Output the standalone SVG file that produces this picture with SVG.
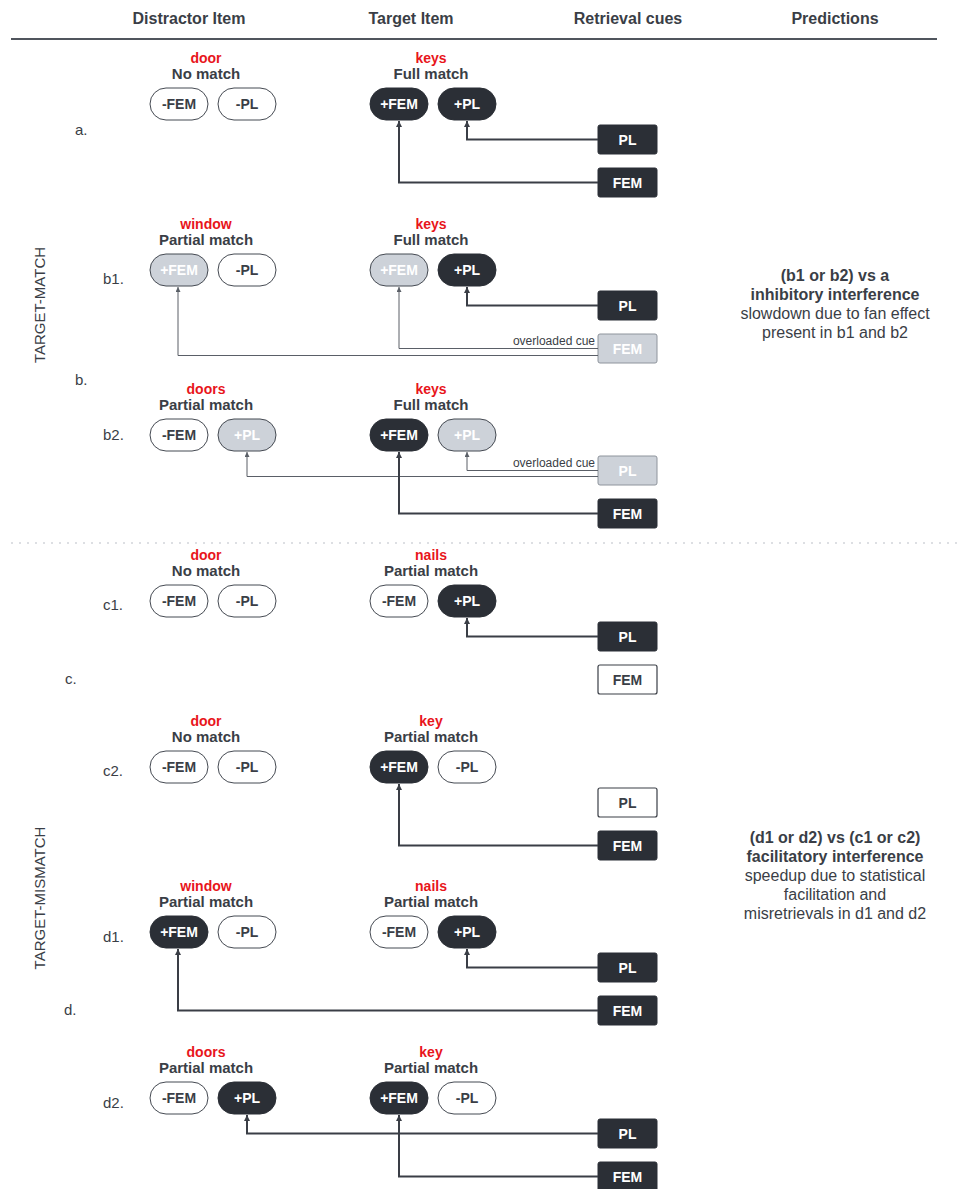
<svg xmlns="http://www.w3.org/2000/svg" width="961" height="1189" viewBox="0 0 961 1189">
<style>
text{font-family:"Liberation Sans",Arial,sans-serif;fill:#3a3e46}
.hd{font-size:16px;font-weight:bold;text-anchor:middle}
.w{font-size:14px;font-weight:bold;fill:#e8151b;text-anchor:middle}
.m{font-size:15px;font-weight:bold;text-anchor:middle}
.rl{font-size:15px}
.pt{font-size:14px;font-weight:bold;text-anchor:middle;dominant-baseline:central}
.pw rect{fill:#fff;stroke:#454a52;stroke-width:1}
.pd rect{fill:#2b2f36;stroke:#2b2f36;stroke-width:1}
.pg rect{fill:#cdd2d9;stroke:#454a52;stroke-width:1}
.pd text,.pg text,.cd text,.cg text{fill:#fff}
.cd rect{fill:#2b2f36;stroke:#2b2f36}
.cw rect{fill:#fff;stroke:#3a3e46;stroke-width:1.2}
.cg rect{fill:#cdd2d9;stroke:#8e949c;stroke-width:1}
.k{fill:none;stroke:#3a3e46;stroke-width:2}
.t{fill:none;stroke:#5a5f67;stroke-width:1}
.pr{font-size:16px;text-anchor:middle}
.prb{font-size:16px;font-weight:bold;text-anchor:middle}
.oc{font-size:12px;text-anchor:end;fill:#3a3e46}
</style>
<defs>
<marker id="ah" markerUnits="userSpaceOnUse" markerWidth="8" markerHeight="8" refX="6" refY="3" orient="auto">
<path d="M0,0 L6,3 L0,6 Z" fill="#3a3e46"/>
</marker>
<marker id="aht" markerUnits="userSpaceOnUse" markerWidth="8" markerHeight="8" refX="5" refY="2.5" orient="auto">
<path d="M0,0 L5,2.5 L0,5 Z" fill="#5a5f67"/>
</marker>
</defs>

<g id="header">
<text class="hd" x="189" y="24">Distractor Item</text>
<text class="hd" x="411" y="24">Target Item</text>
<text class="hd" x="628" y="24">Retrieval cues</text>
<text class="hd" x="835" y="24">Predictions</text>
<line x1="11" y1="39" x2="937" y2="39" stroke="#50555d" stroke-width="2"/>
<line x1="11" y1="543" x2="960" y2="543" stroke="#d2d5da" stroke-width="1.5" stroke-dasharray="2,6"/>
</g>

<g id="side-labels">
<text class="rl" transform="translate(45,305) rotate(-90)" text-anchor="middle">TARGET-MATCH</text>
<text class="rl" transform="translate(45,898) rotate(-90)" text-anchor="middle">TARGET-MISMATCH</text>
<text class="rl" x="75" y="135">a.</text>
<text class="rl" x="103" y="284">b1.</text>
<text class="rl" x="75" y="385">b.</text>
<text class="rl" x="103" y="440">b2.</text>
<text class="rl" x="103" y="610">c1.</text>
<text class="rl" x="65" y="684">c.</text>
<text class="rl" x="103" y="776">c2.</text>
<text class="rl" x="103" y="942">d1.</text>
<text class="rl" x="64" y="1015">d.</text>
<text class="rl" x="103" y="1108">d2.</text>
</g>

<g id="predictions">
<text class="prb" x="835" y="281">(b1 or b2) vs a</text>
<text class="prb" x="835" y="300">inhibitory interference</text>
<text class="pr" x="835" y="319">slowdown due to fan effect</text>
<text class="pr" x="835" y="338">present in b1 and b2</text>
<text class="prb" x="835" y="843">(d1 or d2) vs (c1 or c2)</text>
<text class="prb" x="835" y="862">facilitatory interference</text>
<text class="pr" x="835" y="881">speedup due to statistical</text>
<text class="pr" x="835" y="900">facilitation and</text>
<text class="pr" x="835" y="919">misretrievals in d1 and d2</text>
</g>

<!-- Row a (t=88) -->
<g id="row-a">
<text class="w" x="206" y="63">door</text>
<text class="m" x="206" y="79">No match</text>
<text class="w" x="431" y="63">keys</text>
<text class="m" x="431" y="79">Full match</text>
<g id="a-d-fem" class="pw"><rect x="150" y="88" width="58" height="32" rx="16"/><text class="pt" x="179" y="104">-FEM</text></g>
<g id="a-d-pl" class="pw"><rect x="218" y="88" width="58" height="32" rx="16"/><text class="pt" x="247" y="104">-PL</text></g>
<g id="a-t-fem" class="pd"><rect x="370" y="88" width="58" height="32" rx="16"/><text class="pt" x="399" y="104">+FEM</text></g>
<g id="a-t-pl" class="pd"><rect x="438" y="88" width="58" height="32" rx="16"/><text class="pt" x="467" y="104">+PL</text></g>
<g id="a-cue-pl" class="cd"><rect x="598" y="125" width="59" height="29" rx="2"/><text class="pt" x="627.5" y="139.5">PL</text></g>
<g id="a-cue-fem" class="cd"><rect x="598" y="168" width="59" height="29" rx="2"/><text class="pt" x="627.5" y="182.5">FEM</text></g>
</g>

<!-- Row b1 (t=254) -->
<g id="row-b1">
<text class="w" x="206" y="229">window</text>
<text class="m" x="206" y="245">Partial match</text>
<text class="w" x="431" y="229">keys</text>
<text class="m" x="431" y="245">Full match</text>
<g id="b1-d-fem" class="pg"><rect x="150" y="254" width="58" height="32" rx="16"/><text class="pt" x="179" y="270">+FEM</text></g>
<g id="b1-d-pl" class="pw"><rect x="218" y="254" width="58" height="32" rx="16"/><text class="pt" x="247" y="270">-PL</text></g>
<g id="b1-t-fem" class="pg"><rect x="370" y="254" width="58" height="32" rx="16"/><text class="pt" x="399" y="270">+FEM</text></g>
<g id="b1-t-pl" class="pd"><rect x="438" y="254" width="58" height="32" rx="16"/><text class="pt" x="467" y="270">+PL</text></g>
<g id="b1-cue-pl" class="cd"><rect x="598" y="291" width="59" height="29" rx="2"/><text class="pt" x="627.5" y="305.5">PL</text></g>
<g id="b1-cue-fem" class="cg"><rect x="598" y="334" width="59" height="29" rx="2"/><text class="pt" x="627.5" y="348.5">FEM</text></g>
<text class="oc" x="595" y="345">overloaded cue</text>
</g>

<!-- Row b2 (t=419) -->
<g id="row-b2">
<text class="w" x="206" y="394">doors</text>
<text class="m" x="206" y="410">Partial match</text>
<text class="w" x="431" y="394">keys</text>
<text class="m" x="431" y="410">Full match</text>
<g id="b2-d-fem" class="pw"><rect x="150" y="419" width="58" height="32" rx="16"/><text class="pt" x="179" y="435">-FEM</text></g>
<g id="b2-d-pl" class="pg"><rect x="218" y="419" width="58" height="32" rx="16"/><text class="pt" x="247" y="435">+PL</text></g>
<g id="b2-t-fem" class="pd"><rect x="370" y="419" width="58" height="32" rx="16"/><text class="pt" x="399" y="435">+FEM</text></g>
<g id="b2-t-pl" class="pg"><rect x="438" y="419" width="58" height="32" rx="16"/><text class="pt" x="467" y="435">+PL</text></g>
<g id="b2-cue-pl" class="cg"><rect x="598" y="456" width="59" height="29" rx="2"/><text class="pt" x="627.5" y="470.5">PL</text></g>
<g id="b2-cue-fem" class="cd"><rect x="598" y="499" width="59" height="29" rx="2"/><text class="pt" x="627.5" y="513.5">FEM</text></g>
<text class="oc" x="595" y="467">overloaded cue</text>
</g>

<!-- Row c1 (t=585) -->
<g id="row-c1">
<text class="w" x="206" y="560">door</text>
<text class="m" x="206" y="576">No match</text>
<text class="w" x="431" y="560">nails</text>
<text class="m" x="431" y="576">Partial match</text>
<g id="c1-d-fem" class="pw"><rect x="150" y="585" width="58" height="32" rx="16"/><text class="pt" x="179" y="601">-FEM</text></g>
<g id="c1-d-pl" class="pw"><rect x="218" y="585" width="58" height="32" rx="16"/><text class="pt" x="247" y="601">-PL</text></g>
<g id="c1-t-fem" class="pw"><rect x="370" y="585" width="58" height="32" rx="16"/><text class="pt" x="399" y="601">-FEM</text></g>
<g id="c1-t-pl" class="pd"><rect x="438" y="585" width="58" height="32" rx="16"/><text class="pt" x="467" y="601">+PL</text></g>
<g id="c1-cue-pl" class="cd"><rect x="598" y="622" width="59" height="29" rx="2"/><text class="pt" x="627.5" y="636.5">PL</text></g>
<g id="c1-cue-fem" class="cw"><rect x="598" y="665" width="59" height="29" rx="2"/><text class="pt" x="627.5" y="679.5">FEM</text></g>
</g>

<!-- Row c2 (t=751) -->
<g id="row-c2">
<text class="w" x="206" y="726">door</text>
<text class="m" x="206" y="742">No match</text>
<text class="w" x="431" y="726">key</text>
<text class="m" x="431" y="742">Partial match</text>
<g id="c2-d-fem" class="pw"><rect x="150" y="751" width="58" height="32" rx="16"/><text class="pt" x="179" y="767">-FEM</text></g>
<g id="c2-d-pl" class="pw"><rect x="218" y="751" width="58" height="32" rx="16"/><text class="pt" x="247" y="767">-PL</text></g>
<g id="c2-t-fem" class="pd"><rect x="370" y="751" width="58" height="32" rx="16"/><text class="pt" x="399" y="767">+FEM</text></g>
<g id="c2-t-pl" class="pw"><rect x="438" y="751" width="58" height="32" rx="16"/><text class="pt" x="467" y="767">-PL</text></g>
<g id="c2-cue-pl" class="cw"><rect x="598" y="788" width="59" height="29" rx="2"/><text class="pt" x="627.5" y="802.5">PL</text></g>
<g id="c2-cue-fem" class="cd"><rect x="598" y="831" width="59" height="29" rx="2"/><text class="pt" x="627.5" y="845.5">FEM</text></g>
</g>

<!-- Row d1 (t=916) -->
<g id="row-d1">
<text class="w" x="206" y="891">window</text>
<text class="m" x="206" y="907">Partial match</text>
<text class="w" x="431" y="891">nails</text>
<text class="m" x="431" y="907">Partial match</text>
<g id="d1-d-fem" class="pd"><rect x="150" y="916" width="58" height="32" rx="16"/><text class="pt" x="179" y="932">+FEM</text></g>
<g id="d1-d-pl" class="pw"><rect x="218" y="916" width="58" height="32" rx="16"/><text class="pt" x="247" y="932">-PL</text></g>
<g id="d1-t-fem" class="pw"><rect x="370" y="916" width="58" height="32" rx="16"/><text class="pt" x="399" y="932">-FEM</text></g>
<g id="d1-t-pl" class="pd"><rect x="438" y="916" width="58" height="32" rx="16"/><text class="pt" x="467" y="932">+PL</text></g>
<g id="d1-cue-pl" class="cd"><rect x="598" y="953" width="59" height="29" rx="2"/><text class="pt" x="627.5" y="967.5">PL</text></g>
<g id="d1-cue-fem" class="cd"><rect x="598" y="996" width="59" height="29" rx="2"/><text class="pt" x="627.5" y="1010.5">FEM</text></g>
</g>

<!-- Row d2 (t=1082) -->
<g id="row-d2">
<text class="w" x="206" y="1057">doors</text>
<text class="m" x="206" y="1073">Partial match</text>
<text class="w" x="431" y="1057">key</text>
<text class="m" x="431" y="1073">Partial match</text>
<g id="d2-d-fem" class="pw"><rect x="150" y="1082" width="58" height="32" rx="16"/><text class="pt" x="179" y="1098">-FEM</text></g>
<g id="d2-d-pl" class="pd"><rect x="218" y="1082" width="58" height="32" rx="16"/><text class="pt" x="247" y="1098">+PL</text></g>
<g id="d2-t-fem" class="pd"><rect x="370" y="1082" width="58" height="32" rx="16"/><text class="pt" x="399" y="1098">+FEM</text></g>
<g id="d2-t-pl" class="pw"><rect x="438" y="1082" width="58" height="32" rx="16"/><text class="pt" x="467" y="1098">-PL</text></g>
<g id="d2-cue-pl" class="cd"><rect x="598" y="1119" width="59" height="29" rx="2"/><text class="pt" x="627.5" y="1133.5">PL</text></g>
<g id="d2-cue-fem" class="cd"><rect x="598" y="1162" width="59" height="29" rx="2"/><text class="pt" x="627.5" y="1176.5">FEM</text></g>
</g>

<g id="connectors">
<polyline class="k" points="598,139.5 467,139.5 467,121" marker-end="url(#ah)"/>
<polyline class="k" points="598,182.5 399,182.5 399,121" marker-end="url(#ah)"/>

<polyline class="k" points="598,305.5 467,305.5 467,287" marker-end="url(#ah)"/>
<polyline class="t" points="598,348.5 399,348.5 399,287" marker-end="url(#aht)"/>
<polyline class="t" points="598,355.5 178,355.5 178,287" marker-end="url(#aht)"/>

<polyline class="t" points="598,470.5 467,470.5 467,452" marker-end="url(#aht)"/>
<polyline class="t" points="598,476.5 247,476.5 247,452" marker-end="url(#aht)"/>
<polyline class="k" points="598,513.5 399,513.5 399,452" marker-end="url(#ah)"/>

<polyline class="k" points="598,636.5 467,636.5 467,618" marker-end="url(#ah)"/>

<polyline class="k" points="598,845.5 399,845.5 399,784" marker-end="url(#ah)"/>

<polyline class="k" points="598,967.5 467,967.5 467,949" marker-end="url(#ah)"/>
<polyline class="k" points="598,1010.5 178,1010.5 178,949" marker-end="url(#ah)"/>

<polyline class="k" points="598,1133.5 247,1133.5 247,1115" marker-end="url(#ah)"/>
<polyline class="k" points="598,1176.5 399,1176.5 399,1115" marker-end="url(#ah)"/>
</g>
</svg>
